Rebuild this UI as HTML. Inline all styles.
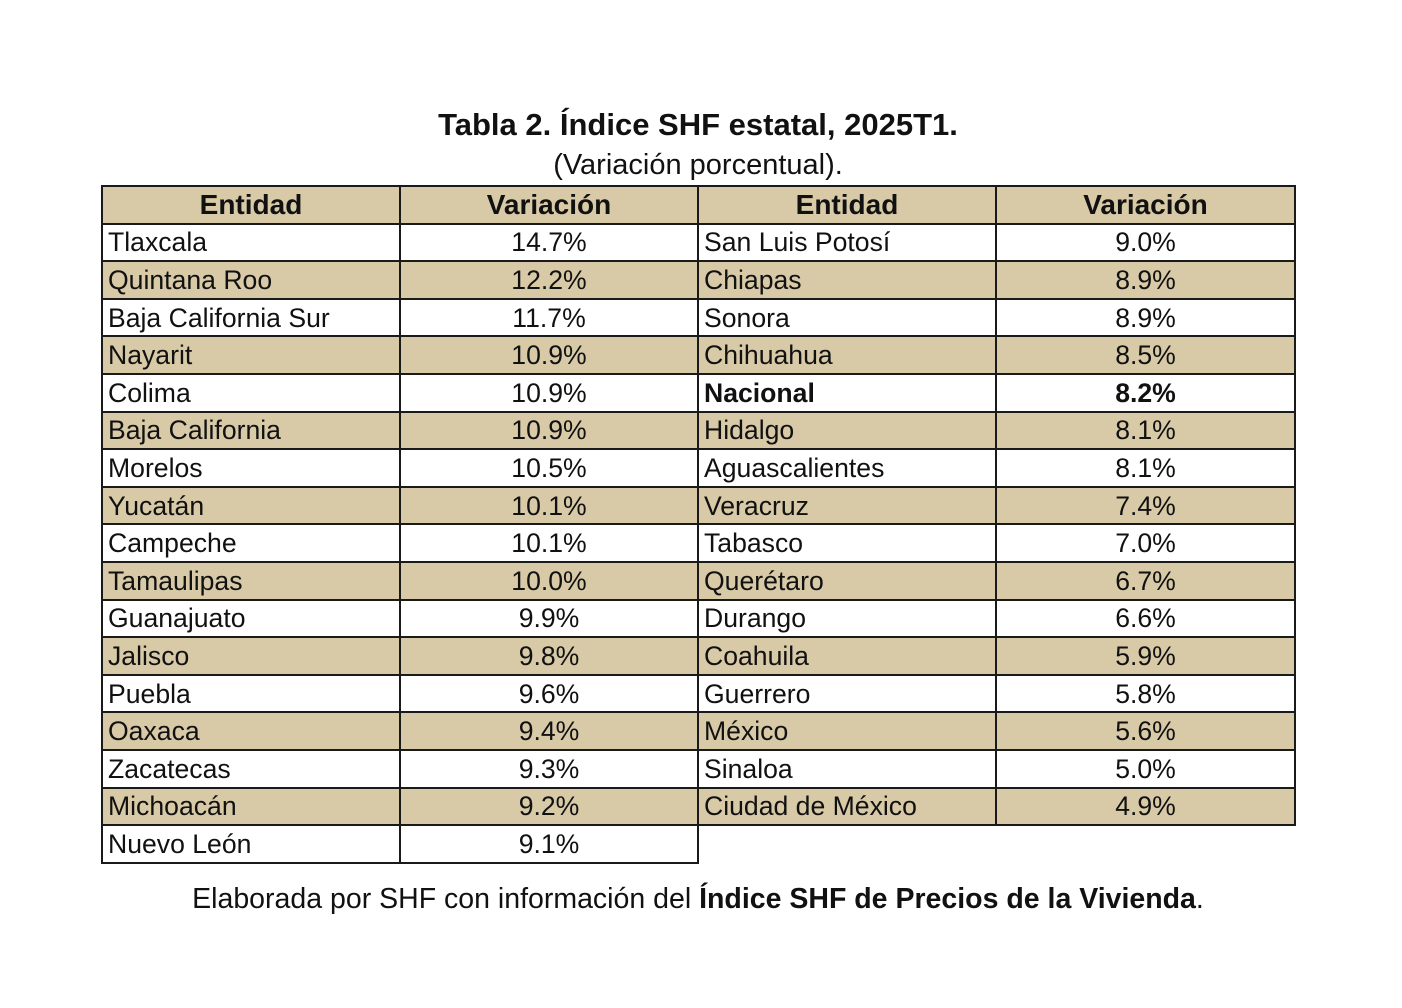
<!DOCTYPE html>
<html><head><meta charset="utf-8"><style>
body{margin:0;background:#fff;width:1402px;height:1008px;position:relative;font-family:"Liberation Sans",sans-serif;color:#111}
.t{position:absolute;left:0;width:1396px;text-align:center}
table{position:absolute;left:101px;top:185px;border-collapse:collapse;table-layout:fixed}
td{border:2px solid #1a1a1a;height:35.6px;padding:0 5px;font-size:26.6px;line-height:26px;white-space:nowrap;overflow:hidden}
td.v{text-align:center}
tr.h td{font-weight:bold;text-align:center;background:#d8c9a7;font-size:28px}
tr.s td{background:#d8c9a7}
td.e{border:none;background:#fff!important}
</style></head><body>
<div class="t" style="top:107px;font-size:31px;font-weight:bold">Tabla 2. Índice SHF estatal, 2025T1.</div>
<div class="t" style="top:149px;font-size:29px">(Variación porcentual).</div>
<table>
<colgroup><col style="width:298px"><col style="width:298px"><col style="width:298px"><col style="width:299px"></colgroup>
<tr class="h"><td>Entidad</td><td>Variación</td><td>Entidad</td><td>Variación</td></tr>
<tr><td>Tlaxcala</td><td class="v">14.7%</td><td>San Luis Potosí</td><td class="v">9.0%</td></tr>
<tr class="s"><td>Quintana Roo</td><td class="v">12.2%</td><td>Chiapas</td><td class="v">8.9%</td></tr>
<tr><td>Baja California Sur</td><td class="v">11.7%</td><td>Sonora</td><td class="v">8.9%</td></tr>
<tr class="s"><td>Nayarit</td><td class="v">10.9%</td><td>Chihuahua</td><td class="v">8.5%</td></tr>
<tr><td>Colima</td><td class="v">10.9%</td><td style="font-weight:bold">Nacional</td><td class="v" style="font-weight:bold">8.2%</td></tr>
<tr class="s"><td>Baja California</td><td class="v">10.9%</td><td>Hidalgo</td><td class="v">8.1%</td></tr>
<tr><td>Morelos</td><td class="v">10.5%</td><td>Aguascalientes</td><td class="v">8.1%</td></tr>
<tr class="s"><td>Yucatán</td><td class="v">10.1%</td><td>Veracruz</td><td class="v">7.4%</td></tr>
<tr><td>Campeche</td><td class="v">10.1%</td><td>Tabasco</td><td class="v">7.0%</td></tr>
<tr class="s"><td>Tamaulipas</td><td class="v">10.0%</td><td>Querétaro</td><td class="v">6.7%</td></tr>
<tr><td>Guanajuato</td><td class="v">9.9%</td><td>Durango</td><td class="v">6.6%</td></tr>
<tr class="s"><td>Jalisco</td><td class="v">9.8%</td><td>Coahuila</td><td class="v">5.9%</td></tr>
<tr><td>Puebla</td><td class="v">9.6%</td><td>Guerrero</td><td class="v">5.8%</td></tr>
<tr class="s"><td>Oaxaca</td><td class="v">9.4%</td><td>México</td><td class="v">5.6%</td></tr>
<tr><td>Zacatecas</td><td class="v">9.3%</td><td>Sinaloa</td><td class="v">5.0%</td></tr>
<tr class="s"><td>Michoacán</td><td class="v">9.2%</td><td>Ciudad de México</td><td class="v">4.9%</td></tr>
<tr><td>Nuevo León</td><td class="v">9.1%</td><td class="e"></td><td class="e"></td></tr>
</table>
<div class="t" style="top:883px;font-size:28.5px">Elaborada por SHF con información del <b>Índice SHF de Precios de la Vivienda</b>.</div>
</body></html>
